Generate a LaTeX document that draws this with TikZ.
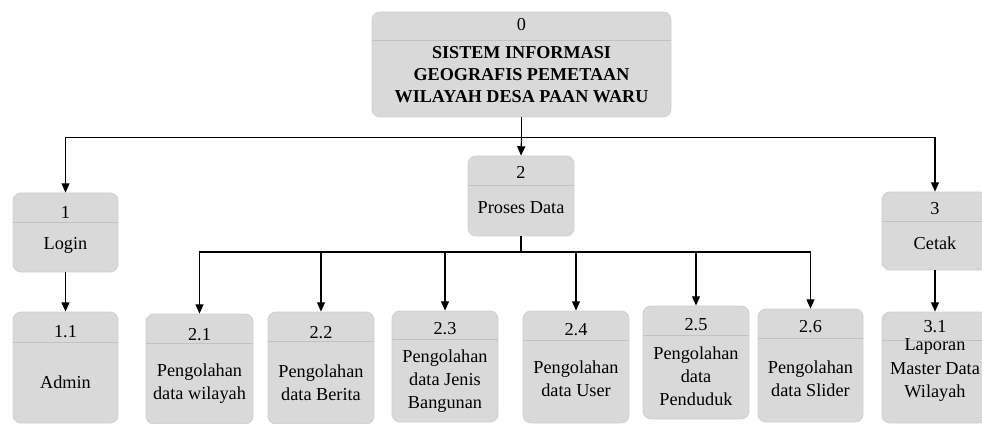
\documentclass[tikz,border=0pt]{standalone}
\usepackage{fontspec}
\setmainfont{Liberation Serif}
\usetikzlibrary{arrows.meta,fit}
\definecolor{boxfill}{HTML}{D9D9D9}
\definecolor{boxline}{HTML}{CFCFCF}
\definecolor{divline}{HTML}{C2C2C2}
\newcommand\pbx[6]{%
  \node[pbox, fit={(#2,#3) (#4,#5)}] (#1) {};
  \draw[divl] (#2,#6) -- (#4,#6);}
\begin{document}
\begin{tikzpicture}[x=0.75pt,y=-0.75pt,
  pbox/.style={draw=boxline, fill=boxfill, rounded corners=6pt, inner sep=0pt, line width=0.6pt},
  divl/.style={draw=divline, line width=0.6pt},
  lbl/.style={inner sep=0pt, align=center, font=\fontsize{13.7}{17.3}\selectfont},
  ttl/.style={inner sep=0pt, align=center, font=\fontsize{13.6}{16.5}\selectfont\bfseries},
  conn/.style={draw=black, line width=0.9pt},
  arr/.style={conn, -{Triangle[width=6pt,length=7pt]}}]
\useasboundingbox (0,0) rectangle (982,424);

% boxes
\pbx{n0}{372}{12}{671}{117}{40}
\pbx{n1}{13}{193}{118}{272}{222}
\pbx{n11}{13}{312}{118}{423}{342}
\pbx{n2}{468}{156}{574}{236}{185}
\pbx{n3}{882}{192}{988}{270}{221}
\pbx{n31}{882}{312}{988}{423}{340}
\pbx{n21}{146}{314}{253}{424}{343}
\pbx{n22}{268}{312}{374}{424}{341}
\pbx{n23}{392}{311}{498}{422}{339}
\pbx{n24}{523}{311}{629}{423}{340}
\pbx{n25}{643}{306}{749}{419}{335}
\pbx{n26}{758}{309}{863}{422}{338}

% texts
\node[lbl] (t0a) at (521.5,25) {0};
\node[ttl] (t0b) at (521.5,75) {SISTEM INFORMASI\\GEOGRAFIS PEMETAAN\\WILAYAH DESA PAAN WARU};
\node[lbl] (t1a) at (65.5,212) {1};
\node[lbl] (t1b) at (65.5,245) {Login};
\node[lbl] (t11a) at (65.5,332) {1.1};
\node[lbl] (t11b) at (65.5,382) {Admin};
\node[lbl] (t2a) at (521,172) {2};
\node[lbl] (t2b) at (521,208) {Proses Data};
\node[lbl] (t3a) at (935,209) {3};
\node[lbl] (t3b) at (935,243) {Cetak};
\node[lbl] (t31a) at (935,327) {3.1};
\node[lbl] (t31b) at (935,370) {Laporan\\Master Data\\Wilayah};
\node[lbl] (t21a) at (199.5,335) {2.1};
\node[lbl] (t21b) at (199.5,383.5) {Pengolahan\\data wilayah};
\node[lbl] (t22a) at (321,333) {2.2};
\node[lbl] (t22b) at (321,382.5) {Pengolahan\\data Berita};
\node[lbl] (t23a) at (445,329) {2.3};
\node[lbl] (t23b) at (445,381) {Pengolahan\\data Jenis\\Bangunan};
\node[lbl] (t24a) at (576,330) {2.4};
\node[lbl] (t24b) at (576,379) {Pengolahan\\data User};
\node[lbl] (t25a) at (696,325) {2.5};
\node[lbl] (t25b) at (696,376) {Pengolahan\\data\\Penduduk};
\node[lbl] (t26a) at (810.5,327) {2.6};
\node[lbl] (t26b) at (810.5,379) {Pengolahan\\data Slider};

% connectors
\coordinate (bus0) at (n0.south |- 0,137.7);
\coordinate (bus2) at (n2.south |- 0,252);
\draw[conn] (n0.south) -- (bus0);
\draw[arr] (bus0) -| (n1.north);
\draw[arr] (bus0) -| (n3.north);
\draw[arr] (bus0) -- (n2.north);
\draw[arr] (n1.south) -- (n11.north);
\draw[arr] (n3.south) -- (n31.north);
\draw[conn] (n2.south) -- (bus2);
\draw[arr] (bus2) -| (n21.north);
\draw[arr] (bus2) -| (n22.north);
\draw[arr] (bus2) -| (n23.north);
\draw[arr] (bus2) -| (n24.north);
\draw[arr] (bus2) -| (n25.north);
\draw[arr] (bus2) -| (n26.north);
\end{tikzpicture}
\end{document}
